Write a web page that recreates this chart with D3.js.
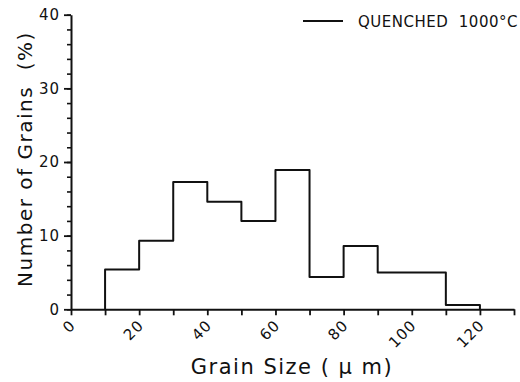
<!DOCTYPE html>
<html>
<head>
<meta charset="utf-8">
<script src="https://cdn.jsdelivr.net/npm/d3@7"></script>
<style>
  body { margin: 0; background: #fff; }
  text { font-family: "DejaVu Sans", sans-serif; fill: #111; }
</style>
</head>
<body>
<svg id="chart" width="520" height="382"></svg>
<script>
// bin edges (um) and percentage of grains per bin
const binStart = [10, 20, 30, 40, 50, 60, 70, 80, 90, 100, 110];
const binEnd   = [20, 30, 40, 50, 60, 70, 80, 90, 100, 110, 120];
const percent  = [5.4, 9.3, 17.3, 14.6, 12.0, 18.9, 4.4, 8.6, 5.0, 5.0, 0.6];

const xTicks = [0, 10, 20, 30, 40, 50, 60, 70, 80, 90, 100, 110, 120, 130];
const xLabels = [0, 20, 40, 60, 80, 100, 120];
const yTicks = [0, 10, 20, 30, 40];
const yMinor = d3.range(0, 41, 2);
const legendLabel = "QUENCHED  1000°C";

const svg = d3.select('#chart');
const x = d3.scaleLinear().domain([0, 130]).range([71, 514]);
const y = d3.scaleLinear().domain([0, 40]).range([309.3, 14.7]);

// y axis, minor ticks first
svg.append('g')
  .attr('transform', `translate(${x(0)},0)`)
  .call(d3.axisLeft(y).tickValues(yMinor).tickSize(4).tickFormat(''))
  .call(g => g.select('.domain').remove())
  .call(g => g.selectAll('line').attr('stroke', '#111').attr('stroke-width', 1.6));

svg.append('g')
  .attr('transform', `translate(${x(0)},0)`)
  .call(d3.axisLeft(y).tickValues(yTicks).tickSize(7).tickSizeOuter(0).tickPadding(4))
  .call(g => g.select('.domain').attr('stroke', '#111').attr('stroke-width', 2))
  .call(g => g.selectAll('line').attr('stroke', '#111').attr('stroke-width', 1.8))
  .call(g => g.selectAll('text').attr('font-size', 15).attr('letter-spacing', 1)
    .attr('font-family', '"DejaVu Sans", sans-serif').attr('fill', '#111'));

// x axis
const xAxis = svg.append('g')
  .attr('transform', `translate(0,${y(0)})`)
  .call(d3.axisBottom(x).tickValues(xTicks).tickSize(6).tickSizeOuter(0)
    .tickFormat(d => xLabels.includes(d) ? d : ''))
  .call(g => g.select('.domain').attr('stroke', '#111').attr('stroke-width', 2))
  .call(g => g.selectAll('line').attr('stroke', '#111').attr('stroke-width', 1.8));

xAxis.selectAll('text')
  .attr('font-size', 15)
  .attr('letter-spacing', 1)
  .attr('font-family', '"DejaVu Sans", sans-serif')
  .attr('fill', '#111')
  .attr('text-anchor', 'end')
  .attr('dy', null)
  .attr('y', 0)
  .attr('transform', 'translate(5,17) rotate(-45)');

// histogram outline
const pts = [[binStart[0], 0]];
percent.forEach((v, i) => { pts.push([binStart[i], v]); pts.push([binEnd[i], v]); });
pts.push([binEnd[binEnd.length - 1], 0]);

svg.append('path')
  .datum(pts)
  .attr('fill', 'none')
  .attr('stroke', '#111')
  .attr('stroke-width', 2)
  .attr('stroke-linejoin', 'round')
  .attr('d', d3.line().x(d => x(d[0])).y(d => y(d[1])));

// axis titles
svg.append('text')
  .attr('x', 292).attr('y', 374)
  .attr('text-anchor', 'middle')
  .attr('font-size', 21)
  .attr('letter-spacing', 1.5)
  .attr('xml:space', 'preserve')
  .text('Grain Size ( \u03bc m)');

svg.append('text')
  .attr('transform', 'translate(32,159) rotate(-90)')
  .attr('text-anchor', 'middle')
  .attr('font-size', 20)
  .attr('letter-spacing', 1.5)
  .attr('xml:space', 'preserve')
  .text('Number of Grains  (%)');

// legend
svg.append('line')
  .attr('x1', 303).attr('x2', 343).attr('y1', 21).attr('y2', 21)
  .attr('stroke', '#111').attr('stroke-width', 1.8);
svg.append('text')
  .attr('x', 358).attr('y', 27)
  .attr('font-size', 15)
  .attr('letter-spacing', 0.5)
  .attr('xml:space', 'preserve')
  .text(legendLabel);
</script>
</body>
</html>
